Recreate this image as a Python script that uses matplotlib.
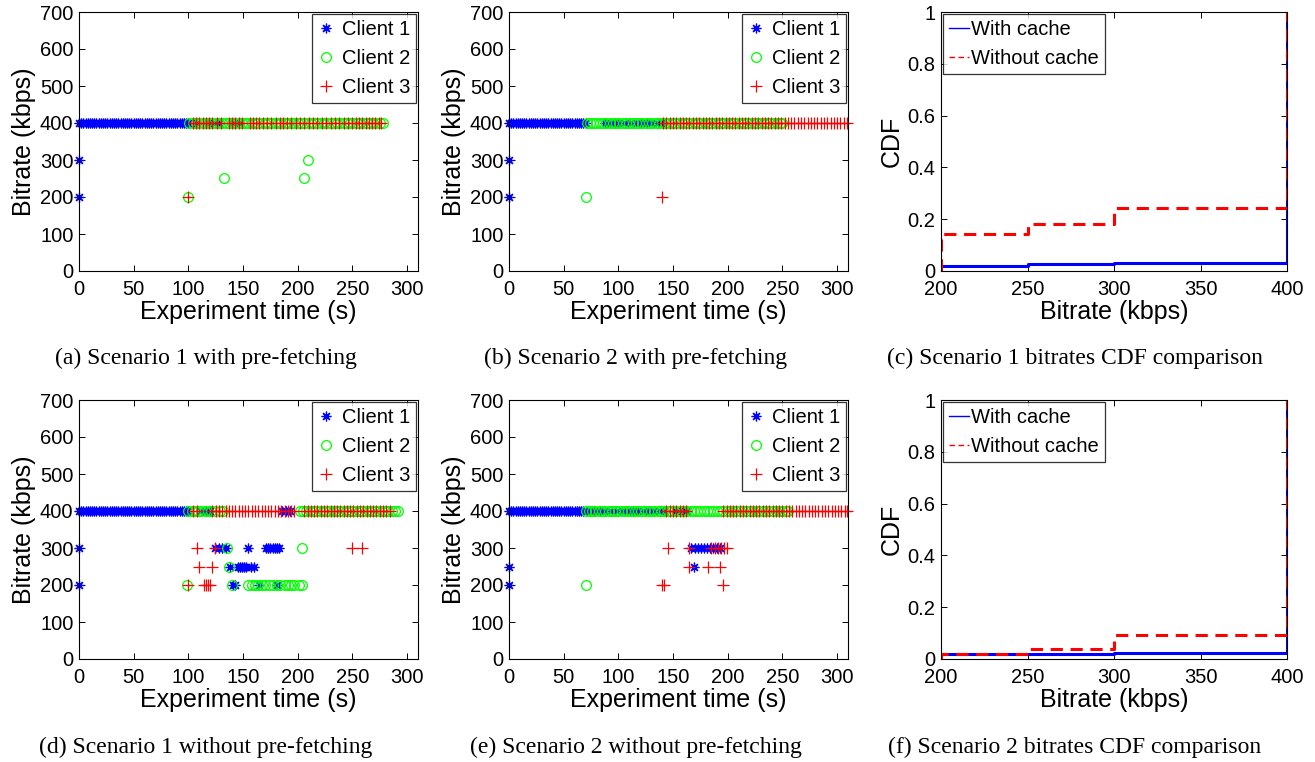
import matplotlib
matplotlib.use("Agg")
import matplotlib.pyplot as plt

plt.rcParams["font.family"] = ["Liberation Sans", "DejaVu Sans"]

# ---- (a) Scenario 1 with pre-fetching ----
a_c1_400 = [0, 2, 4, 6, 8, 10, 12, 14, 16, 18, 20, 22, 24, 26, 28, 30, 32, 34, 36, 38,
            40, 42, 44, 46, 48, 50, 52, 54, 56, 58, 60, 62, 64, 66, 68, 70, 72, 74, 76, 78,
            80, 82, 84, 86, 88, 90, 92, 94, 96, 98, 100, 108, 118, 124, 128, 141, 146]
a_c1_low_t = [0, 0]
a_c1_low_v = [300, 200]
a_c2_400 = [101, 104, 107, 110, 113, 116, 119, 122, 125, 128, 131, 134, 137, 140, 143, 146,
            149, 152, 155, 158, 161, 164, 167, 170, 173, 176, 179, 182, 185, 188, 191, 194,
            197, 200, 203, 206, 209, 212, 215, 218, 221, 224, 227, 230, 233, 236, 239, 242,
            245, 248, 251, 254, 257, 260, 263, 266, 269, 272, 275, 278]
a_c2_low_t = [100, 133, 206, 209]
a_c2_low_v = [200, 250, 250, 300]
a_c3_400 = [104, 107, 110, 113, 116, 119, 122, 126, 130, 137, 140, 143, 146, 149, 156, 159,
            162, 165, 168, 172, 176, 180, 184, 187, 190, 194, 198, 202, 206, 210, 214, 218,
            222, 226, 230, 234, 238, 242, 246, 250, 253, 256, 259, 262, 265, 268, 271, 274, 276]
a_c3_low_t = [100]
a_c3_low_v = [200]

# ---- (b) Scenario 2 with pre-fetching ----
b_c1_400 = [0, 2, 4, 6, 8, 10, 12, 14, 16, 18, 20, 22, 24, 26, 28, 30, 32, 34, 36, 38,
            40, 42, 44, 46, 48, 50, 52, 54, 56, 58, 60, 62, 64, 66, 68, 70,
            88, 92, 97, 101, 106, 111, 116, 121, 126, 131, 136, 140]
b_c1_low_t = [0, 0]
b_c1_low_v = [300, 200]
b_c2_400 = [71, 74, 77, 80, 83, 86, 89, 92, 95, 98, 101, 104, 107, 110, 113, 116, 119, 122,
            125, 128, 131, 134, 137, 140, 143, 146, 149, 152, 155, 158, 161, 164, 167, 170,
            173, 176, 179, 182, 185, 188, 191, 194, 197, 200, 203, 206, 209, 212, 215, 218,
            221, 224, 227, 230, 233, 236, 239, 242, 245, 248, 250]
b_c2_low_t = [70]
b_c2_low_v = [200]
b_c3_400 = [141, 144, 147, 150, 153, 156, 159, 162, 165, 168, 171, 174, 177, 180, 183, 186,
            189, 192, 195, 198, 201, 204, 207, 210, 213, 216, 219, 222, 225, 228, 231, 234,
            237, 240, 243, 246, 249, 252, 255, 258, 261, 264, 267, 270, 273, 276, 279, 282,
            285, 288, 291, 294, 297, 300, 303, 306, 309]
b_c3_low_t = [140]
b_c3_low_v = [200]

# ---- (d) Scenario 1 without pre-fetching ----
d_c1_400 = [0, 2, 4, 6, 8, 10, 12, 14, 16, 18, 20, 22, 24, 26, 28, 30, 32, 34, 36, 38,
            40, 42, 44, 46, 48, 50, 52, 54, 56, 58, 60, 62, 64, 66, 68, 70, 72, 74, 76, 78,
            80, 82, 84, 86, 88, 90, 92, 94, 96, 98, 100, 112, 116, 120, 186, 189, 193]
d_c1_low_t = [0, 0, 124, 128, 131, 134, 155, 171, 173, 175, 177, 179, 181, 183,
              138, 145, 147, 149, 151, 153, 157, 160, 141, 143, 165, 181]
d_c1_low_v = [300, 200, 300, 300, 300, 300, 300, 300, 300, 300, 300, 300, 300, 300,
              250, 250, 250, 250, 250, 250, 250, 250, 200, 200, 200, 200]
d_c2_400 = [100, 103, 106, 109, 112, 115, 118, 121, 124, 129, 132,
            202, 205, 208, 211, 214, 217, 220, 223, 226, 229, 232, 235, 238, 241, 244, 247,
            250, 253, 256, 259, 262, 265, 268, 271, 274, 277, 280, 283, 286, 289, 292]
d_c2_low_t = [99, 135, 204, 137, 140, 155, 158, 161, 164, 167, 170, 174, 177, 181, 184,
              188, 191, 194, 197, 201, 204]
d_c2_low_v = [200, 300, 300, 250, 200, 200, 200, 200, 200, 200, 200, 200, 200, 200, 200,
              200, 200, 200, 200, 200, 200]
d_c3_400 = [104, 108, 122, 125, 128, 131, 134, 137, 140, 143, 146, 149, 152, 155, 158, 161,
            164, 167, 170, 173, 176, 179, 182, 185, 188, 191, 194, 197, 206, 209, 212, 215,
            218, 221, 224, 227, 230, 233, 236, 239, 242, 245, 248, 251, 254, 257, 260, 263,
            266, 269, 272, 275, 278, 281, 284]
d_c3_low_t = [100, 108, 124, 250, 259, 110, 122, 114, 116, 118, 120]
d_c3_low_v = [200, 300, 300, 300, 300, 250, 250, 200, 200, 200, 200]

# ---- (e) Scenario 2 without pre-fetching ----
e_c1_400 = [0, 2, 4, 6, 8, 10, 12, 14, 16, 18, 20, 22, 24, 26, 28, 30, 32, 34, 36, 38,
            40, 42, 44, 46, 48, 50, 52, 54, 56, 58, 60, 62, 64, 66, 68, 70,
            74, 78, 83, 88, 93, 98, 103, 108, 113, 118, 123, 128, 133, 138, 142, 153, 158, 163]
e_c1_low_t = [0, 0, 166, 170, 173, 176, 178, 181, 184, 187, 190, 193, 169]
e_c1_low_v = [250, 200, 300, 300, 300, 300, 300, 300, 300, 300, 300, 300, 250]
e_c2_400 = [70, 73, 76, 79, 82, 85, 88, 91, 94, 97, 100, 103, 106, 109, 112, 115, 118, 121,
            124, 127, 130, 133, 136, 139, 142, 145, 148, 151, 154, 157, 160, 163, 166, 169,
            172, 175, 178, 181, 184, 187, 190, 193, 196, 199, 202, 205, 208, 211, 214, 217,
            220, 223, 226, 229, 232, 235, 238, 241, 244, 247, 250, 253, 255]
e_c2_low_t = [70]
e_c2_low_v = [200]
e_c3_400 = [144, 147, 150, 153, 156, 159, 162,
            196, 199, 202, 205, 208, 211, 214, 217, 220, 223, 226, 229, 232, 235, 238, 241,
            244, 247, 250, 253, 256, 259, 262, 265, 268, 271, 274, 277, 280, 283, 286, 289,
            292, 295, 298, 301, 304, 307, 309]
e_c3_low_t = [145, 165, 185, 188, 191, 194, 197, 199, 165, 182, 193, 140, 142, 196]
e_c3_low_v = [300, 300, 300, 300, 300, 300, 300, 300, 250, 250, 250, 200, 200, 200]

# ---- CDF panels ----
cdf_levels = [200, 250, 300, 400]
c_with = [0.019, 0.026, 0.032, 1.0]
c_without = [0.143, 0.180, 0.243, 1.0]
f_with = [0.018, 0.018, 0.023, 1.0]
f_without = [0.021, 0.040, 0.093, 1.0]

clients = ["Client 1", "Client 2", "Client 3"]
captions = ["(a) Scenario 1 with pre-fetching", "(b) Scenario 2 with pre-fetching",
            "(c) Scenario 1 bitrates CDF comparison", "(d) Scenario 1 without pre-fetching",
            "(e) Scenario 2 without pre-fetching", "(f) Scenario 2 bitrates CDF comparison"]

W, H = 1315, 762
fig = plt.figure(figsize=(W / 100, H / 100), dpi=100)


def add_axes(left, right, top, bottom):
    return fig.add_axes([left / W, 1 - bottom / H, (right - left) / W, (bottom - top) / H])


def style(ax):
    ax.tick_params(direction="in", top=True, right=True, length=4, width=0.7,
                   labelsize=14.5)
    ax.tick_params(axis="x", pad=6.5)
    ax.tick_params(axis="y", pad=4)
    for s in ax.spines.values():
        s.set_linewidth(0.8)


def scatter_panel(ax, series):
    specs = [dict(marker=(8, 2, 0), color="#0000ff", ms=7),
             dict(marker="o", color="#00ff00", mfc="none", ms=7),
             dict(marker="+", color="#ff0000", ms=8)]
    for (t400, lt, lv), sp, name in zip(series, specs, clients):
        t = t400 + lt
        v = [400] * len(t400) + lv
        ax.plot(t, v, ls="none", marker=sp["marker"], color=sp["color"],
                mfc=sp.get("mfc", sp["color"]), ms=sp["ms"], mew=0.9,
                label=name, clip_on=False)
    ax.set_xlim(0, 310)
    ax.set_ylim(0, 700)
    ax.set_xticks([0, 50, 100, 150, 200, 250, 300])
    ax.set_yticks([0, 100, 200, 300, 400, 500, 600, 700])
    ax.set_xlabel("Experiment time (s)", fontsize=18, labelpad=1)
    ax.set_ylabel("Bitrate (kbps)", fontsize=18, labelpad=3)
    style(ax)
    leg = ax.legend(loc="upper right", fontsize=14.5, frameon=True, fancybox=False,
                    edgecolor="black", borderaxespad=0.1, handlelength=0.8,
                    handletextpad=0.35, labelspacing=0.5, borderpad=0.3)
    leg.get_frame().set_linewidth(0.9)


def cdf_panel(ax, with_c, without_c):
    x = [cdf_levels[0]] + cdf_levels
    ax.step(x, [0] + with_c, where="post", color="#0000ff", lw=2.2, label="With cache")
    ax.step(x, [0] + without_c, where="post", color="#ff0000", lw=2.2, ls=(0, (4, 2.5)),
            label="Without cache")
    ax.set_xlim(200, 400)
    ax.set_ylim(0, 1)
    ax.set_xticks([200, 250, 300, 350, 400])
    ax.set_yticks([0, 0.2, 0.4, 0.6, 0.8, 1])
    ax.set_yticklabels(["0", "0.2", "0.4", "0.6", "0.8", "1"])
    ax.set_xlabel("Bitrate (kbps)", fontsize=18, labelpad=1)
    ax.set_ylabel("CDF", fontsize=18, labelpad=3)
    style(ax)
    leg = ax.legend(loc="upper left", fontsize=14.5, frameon=True, fancybox=False,
                    edgecolor="black", borderaxespad=0.1, handlelength=1.0,
                    handletextpad=0.1, labelspacing=0.5, borderpad=0.3)
    leg.get_frame().set_linewidth(0.9)
    for ln in leg.get_lines():
        ln.set_linewidth(1.0)


cols = [(79, 418), (509, 848), (941, 1287)]
rows = [(12, 271), (400, 659)]

ax_a = add_axes(cols[0][0], cols[0][1], *rows[0])
scatter_panel(ax_a, [(a_c1_400, a_c1_low_t, a_c1_low_v),
                     (a_c2_400, a_c2_low_t, a_c2_low_v),
                     (a_c3_400, a_c3_low_t, a_c3_low_v)])
ax_b = add_axes(cols[1][0], cols[1][1], *rows[0])
scatter_panel(ax_b, [(b_c1_400, b_c1_low_t, b_c1_low_v),
                     (b_c2_400, b_c2_low_t, b_c2_low_v),
                     (b_c3_400, b_c3_low_t, b_c3_low_v)])
ax_c = add_axes(cols[2][0], cols[2][1], *rows[0])
cdf_panel(ax_c, c_with, c_without)

ax_d = add_axes(cols[0][0], cols[0][1], *rows[1])
scatter_panel(ax_d, [(d_c1_400, d_c1_low_t, d_c1_low_v),
                     (d_c2_400, d_c2_low_t, d_c2_low_v),
                     (d_c3_400, d_c3_low_t, d_c3_low_v)])
ax_e = add_axes(cols[1][0], cols[1][1], *rows[1])
scatter_panel(ax_e, [(e_c1_400, e_c1_low_t, e_c1_low_v),
                     (e_c2_400, e_c2_low_t, e_c2_low_v),
                     (e_c3_400, e_c3_low_t, e_c3_low_v)])
ax_f = add_axes(cols[2][0], cols[2][1], *rows[1])
cdf_panel(ax_f, f_with, f_without)

# sub-figure captions
cap_pos = [(206, 358), (636, 358), (1075, 358), (206, 747), (636, 747), (1075, 747)]
for (cx, cy), txt in zip(cap_pos, captions):
    fig.text(cx / W, 1 - cy / H, txt, ha="center", va="center", fontsize=17,
             family=["Liberation Serif", "DejaVu Serif"])

fig.savefig("out.png", dpi=100, facecolor="white")
